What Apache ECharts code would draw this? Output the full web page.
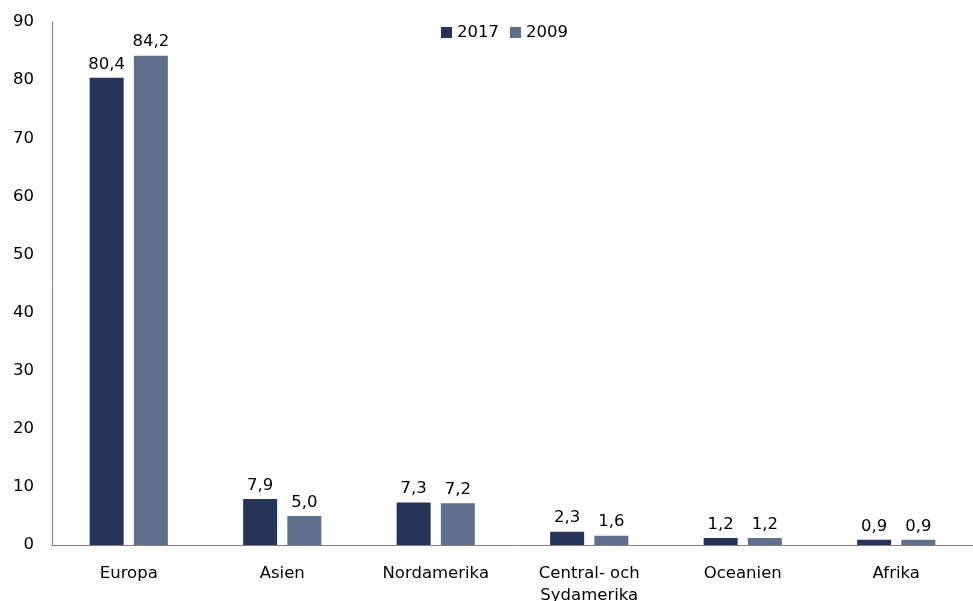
<!DOCTYPE html>
<html><head><meta charset="utf-8">
<script src="https://cdn.jsdelivr.net/npm/echarts@6/dist/echarts.min.js"></script>
<style>html,body{margin:0;padding:0;background:#fff}#c{width:973px;height:601px}</style>
</head><body><div id="c"></div>
<script>
const categories = ['Europa','Asien','Nordamerika','Central- och\nSydamerika','Oceanien','Afrika'];
const values2017 = [80.4, 7.9, 7.3, 2.3, 1.2, 0.9];
const values2009 = [84.2, 5.0, 7.2, 1.6, 1.2, 0.9];
const seriesNames = ['2017','2009'];
const yMin = 0, yMax = 90, yInterval = 10;

const font = '"DejaVu Sans", "Open Sans", sans-serif';
const fs = 16.5;
const fmt = p => p.value.toFixed(1).replace('.', ',');
const chart = echarts.init(document.getElementById('c'));
chart.setOption({
  animation: false,
  textStyle: {fontFamily: font},
  legend: {
    top: 19, left: 436, itemWidth: 11, itemHeight: 11, itemGap: 11,
    icon: 'rect',
    textStyle: {fontSize: fs, color: '#000', fontFamily: font},
    data: seriesNames
  },
  grid: {left: 52, right: 0, top: 22, bottom: 56, containLabel: false, outerBoundsMode: 'none'},
  xAxis: {
    type: 'category', data: categories,
    axisLine: {lineStyle: {color: '#808080', width: 1}},
    axisTick: {show: false},
    axisLabel: {color: '#000', fontSize: fs, fontFamily: font, margin: 18, lineHeight: 22, interval: 0}
  },
  yAxis: {
    type: 'value', min: yMin, max: yMax, interval: yInterval,
    axisLine: {show: true, lineStyle: {color: '#808080', width: 1}},
    axisTick: {show: false},
    splitLine: {show: false},
    axisLabel: {color: '#000', fontSize: fs, fontFamily: font, margin: 18}
  },
  series: [
    {name: seriesNames[0], type: 'bar', data: values2017, barWidth: 34, barGap: '30%',
     itemStyle: {color: '#26345a'},
     label: {show: true, position: 'top', formatter: fmt, color: '#000', fontSize: fs, fontFamily: font, distance: 5}},
    {name: seriesNames[1], type: 'bar', data: values2009, barWidth: 34,
     itemStyle: {color: '#5f6f8e'},
     label: {show: true, position: 'top', formatter: fmt, color: '#000', fontSize: fs, fontFamily: font, distance: 5}}
  ]
});
</script></body></html>
